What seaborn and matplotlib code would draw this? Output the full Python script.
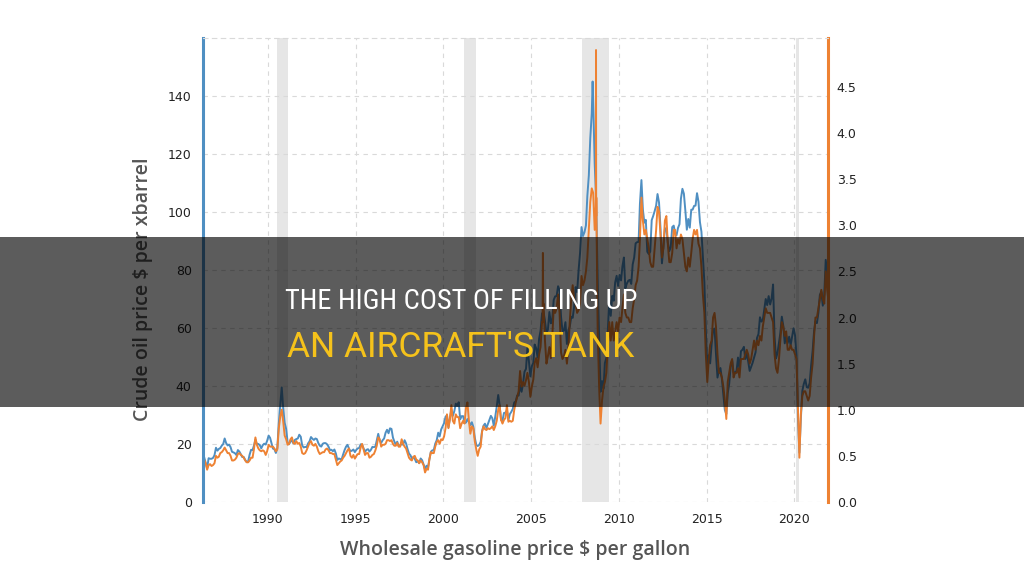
import numpy as np
import pandas as pd
import matplotlib
matplotlib.use('Agg')
import matplotlib.pyplot as plt
import matplotlib.dates as mdates
from matplotlib.patches import Rectangle
from matplotlib import font_manager
import seaborn as sns

# ---- data (monthly) ----
crude_80s = [12.8, 15.4, 13.4, 11.6, 15.1, 14.9, 14.9, 15.2, 16.1,
             18.7, 17.7, 18.3, 18.6, 19.4, 20.0, 21.9, 20.3, 19.5, 19.8, 18.9, 17.3,
             17.1, 16.8, 16.2, 17.9, 17.4, 16.5, 15.5, 15.5, 14.5, 13.8, 14.0, 16.3,
             18.0, 17.9, 19.4, 21.5, 20.0, 20.0, 19.6, 18.5, 19.6, 20.1, 19.8, 21.1]
crude_90s = [22.9, 22.1, 20.4, 18.4, 18.2, 16.9, 18.6, 27.2, 33.7, 39.5, 32.3, 27.3,
             25.2, 20.5, 19.9, 20.8, 21.2, 20.2, 21.4, 21.7, 21.9, 23.2, 22.5, 19.5,
             18.8, 19.0, 18.9, 20.2, 20.9, 22.4, 21.8, 21.4, 21.9, 21.7, 20.3, 19.4,
             19.1, 20.1, 20.3, 20.3, 19.9, 19.1, 17.9, 18.0, 17.5, 18.1, 16.7, 14.5,
             15.0, 14.8, 14.7, 16.4, 17.9, 19.1, 19.7, 18.4, 17.5, 17.7, 18.1, 17.2,
             18.0, 18.5, 18.6, 19.9, 19.7, 18.5, 17.3, 18.0, 18.2, 17.4, 18.0, 19.0,
             18.9, 19.1, 21.3, 23.5, 21.2, 20.4, 21.3, 21.9, 23.9, 24.9, 23.7, 25.4,
             25.2, 22.2, 20.9, 19.7, 20.8, 19.2, 19.6, 19.9, 19.8, 21.3, 20.2, 18.3,
             16.7, 16.1, 15.0, 15.4, 14.9, 13.7, 14.1, 13.4, 15.0, 14.4, 12.9, 11.3,
             12.5, 12.0, 14.7, 17.3, 17.8, 17.9, 20.1, 21.3, 23.9, 22.6, 25.0, 26.1]
crude_00s = [27.2, 29.4, 29.9, 25.7, 28.8, 31.8, 29.7, 31.3, 33.9, 33.1, 34.4, 28.5,
             29.6, 29.6, 27.2, 27.4, 28.6, 27.6, 26.5, 27.5, 25.9, 22.2, 19.7, 19.3,
             19.7, 20.7, 24.4, 26.3, 27.0, 25.5, 26.9, 28.4, 29.7, 28.9, 26.3, 29.4,
             32.9, 36.9, 33.6, 28.3, 28.1, 30.7, 30.8, 31.6, 28.3, 30.3, 31.1, 32.1,
             34.3, 34.7, 36.7, 36.7, 40.3, 38.0, 40.7, 44.9, 45.9, 53.1, 48.5, 43.3,
             46.8, 48.0, 54.3, 53.0, 49.8, 56.3, 59.0, 65.0, 65.6, 62.4, 58.3, 59.4,
             65.5, 61.6, 62.9, 69.7, 70.9, 71.0, 74.4, 73.0, 63.8, 58.9, 59.1, 62.0,
             54.5, 59.3, 60.4, 63.9, 63.5, 67.5, 74.1, 72.4, 79.9, 85.8, 94.8, 91.7,
             93.0, 95.4, 105.5, 112.6, 125.4, 134.0, 138.0, 116.7, 104.1, 76.6, 57.3, 38.0,
             41.7, 39.1, 47.9, 49.7, 59.0, 69.6, 64.2, 71.1, 69.4, 75.7, 78.0, 74.5]
crude_10s = [78.3, 76.4, 81.2, 84.3, 73.7, 75.3, 76.3, 76.6, 75.2, 81.9, 84.3, 89.2,
             89.6, 89.7, 102.9, 111.0, 100.9, 96.3, 97.3, 86.3, 85.5, 86.3, 97.2, 98.6,
             100.3, 102.2, 106.2, 103.3, 94.7, 82.3, 87.9, 94.1, 94.5, 89.5, 86.5, 87.9,
             94.8, 95.3, 92.9, 92.0, 94.5, 95.8, 104.6, 108.0, 106.3, 100.5, 93.9, 97.6,
             94.6, 100.8, 100.8, 102.1, 102.2, 106.5, 103.6, 96.5, 93.2, 84.4, 75.8, 59.3,
             47.2, 50.6, 47.8, 54.5, 59.3, 59.8, 50.9, 42.9, 45.5, 46.2, 42.4, 37.2,
             31.7, 30.3, 37.5, 40.8, 46.7, 48.8, 44.7, 44.7, 45.2, 49.8, 45.7, 52.0,
             52.5, 53.5, 49.3, 51.1, 48.5, 45.2, 46.6, 48.0, 49.8, 51.6, 56.6, 57.9,
             63.7, 62.2, 62.7, 66.3, 70.0, 67.9, 71.0, 68.1, 70.2, 75.0, 57.0, 49.5,
             51.4, 55.0, 58.2, 63.9, 60.8, 54.7, 57.4, 54.8, 57.0, 54.0, 57.0, 59.9]
crude_20s = [57.5, 50.5, 29.2, 17.0, 28.6, 38.3, 40.7, 42.3, 39.6, 39.4, 41.0, 47.0,
             52.0, 59.0, 62.3, 61.7, 65.2, 71.4, 72.5, 67.7, 71.6, 83.5, 79.2, 71.7]

gas_80s = [0.38, 0.46, 0.42, 0.35, 0.40, 0.41, 0.39, 0.40, 0.42,
           0.50, 0.48, 0.49, 0.53, 0.54, 0.56, 0.59, 0.56, 0.53, 0.53, 0.50, 0.45,
           0.45, 0.46, 0.48, 0.52, 0.53, 0.51, 0.50, 0.48, 0.45, 0.43, 0.43, 0.45,
           0.48, 0.48, 0.57, 0.70, 0.62, 0.58, 0.56, 0.55, 0.56, 0.55, 0.51, 0.55]
gas_90s = [0.62, 0.60, 0.60, 0.60, 0.58, 0.55, 0.57, 0.80, 0.93, 1.00, 0.87, 0.72,
           0.68, 0.62, 0.63, 0.68, 0.70, 0.64, 0.63, 0.66, 0.63, 0.64, 0.60, 0.53,
           0.52, 0.53, 0.56, 0.60, 0.64, 0.66, 0.62, 0.61, 0.63, 0.60, 0.55, 0.52,
           0.53, 0.54, 0.54, 0.57, 0.58, 0.56, 0.53, 0.53, 0.52, 0.52, 0.46, 0.40,
           0.42, 0.44, 0.45, 0.48, 0.50, 0.53, 0.56, 0.58, 0.50, 0.48, 0.51, 0.47,
           0.50, 0.52, 0.52, 0.59, 0.63, 0.57, 0.51, 0.53, 0.53, 0.48, 0.49, 0.51,
           0.52, 0.56, 0.61, 0.70, 0.68, 0.60, 0.62, 0.62, 0.63, 0.67, 0.67, 0.66,
           0.67, 0.63, 0.61, 0.61, 0.64, 0.60, 0.60, 0.68, 0.63, 0.60, 0.58, 0.53,
           0.48, 0.46, 0.45, 0.49, 0.50, 0.46, 0.45, 0.42, 0.45, 0.43, 0.40, 0.32,
           0.36, 0.35, 0.46, 0.54, 0.53, 0.53, 0.60, 0.65, 0.67, 0.63, 0.68, 0.67]
gas_00s = [0.71, 0.80, 0.95, 0.80, 0.90, 1.05, 0.88, 0.85, 0.95, 0.92, 0.92, 0.80,
           0.85, 0.88, 0.85, 1.02, 1.08, 0.88, 0.74, 0.82, 0.80, 0.66, 0.57, 0.50,
           0.57, 0.60, 0.76, 0.82, 0.79, 0.78, 0.80, 0.79, 0.80, 0.82, 0.78, 0.82,
           0.88, 1.00, 1.05, 0.89, 0.85, 0.89, 0.91, 1.05, 0.87, 0.88, 0.87, 0.88,
           1.00, 1.08, 1.14, 1.20, 1.42, 1.25, 1.30, 1.26, 1.32, 1.40, 1.30, 1.14,
           1.25, 1.33, 1.51, 1.56, 1.46, 1.60, 1.68, 1.95, 2.15, 1.75, 1.50, 1.58,
           1.68, 1.56, 1.78, 2.10, 2.05, 2.10, 2.25, 2.05, 1.62, 1.55, 1.58, 1.65,
           1.50, 1.68, 1.95, 2.20, 2.35, 2.20, 2.15, 2.05, 2.08, 2.15, 2.45, 2.35,
           2.40, 2.50, 2.65, 2.95, 3.25, 3.40, 3.35, 2.95, 3.10, 1.90, 1.25, 0.85,
           1.10, 1.25, 1.30, 1.40, 1.70, 1.95, 1.75, 1.95, 1.75, 1.85, 1.95, 1.85]
gas_10s = [2.00, 1.95, 2.10, 2.25, 2.05, 2.00, 2.00, 1.95, 1.95, 2.10, 2.20, 2.35,
           2.40, 2.55, 2.85, 3.30, 3.05, 2.90, 2.95, 2.85, 2.75, 2.60, 2.55, 2.55,
           2.75, 2.95, 3.20, 3.15, 2.90, 2.65, 2.75, 3.05, 3.10, 2.80, 2.60, 2.60,
           2.70, 2.95, 2.95, 2.75, 2.85, 2.80, 2.90, 2.85, 2.70, 2.55, 2.50, 2.65,
           2.55, 2.70, 2.85, 2.95, 2.90, 2.95, 2.80, 2.75, 2.55, 2.25, 2.05, 1.60,
           1.30, 1.55, 1.70, 1.75, 2.00, 2.05, 1.90, 1.60, 1.40, 1.40, 1.35, 1.25,
           1.10, 0.90, 1.30, 1.40, 1.50, 1.55, 1.35, 1.40, 1.40, 1.45, 1.35, 1.55,
           1.55, 1.55, 1.60, 1.65, 1.60, 1.50, 1.55, 1.65, 1.75, 1.65, 1.75, 1.70,
           1.80, 1.75, 1.90, 2.00, 2.10, 2.05, 2.05, 2.05, 2.00, 1.95, 1.60, 1.45,
           1.40, 1.55, 1.75, 1.95, 1.90, 1.80, 1.85, 1.65, 1.65, 1.70, 1.65, 1.65]
gas_20s = [1.60, 1.55, 1.05, 0.48, 0.95, 1.15, 1.20, 1.20, 1.15, 1.10, 1.15, 1.35,
           1.50, 1.80, 2.00, 2.00, 2.10, 2.20, 2.30, 2.20, 2.15, 2.50, 2.30, 2.15]

# short-lived spikes (weekly peaks)
crude_spike_dates = ['2008-07-03']
crude_spike_vals = [145.0]
gas_spike_dates = ['2005-08-26', '2005-09-02', '2005-09-09', '2008-09-08', '2008-09-12', '2008-09-17']
gas_spike_vals = [1.95, 2.70, 2.10, 3.20, 4.90, 3.30]

recessions = [('1990-07-01', '1991-03-01'), ('2001-03-01', '2001-11-01'),
              ('2007-12-01', '2009-06-01'), ('2020-02-01', '2020-04-15')]

months = pd.date_range('1986-04-01', '2021-12-01', freq='MS') + pd.Timedelta(days=14)
crude = pd.DataFrame({'date': months,
                      'price': crude_80s + crude_90s + crude_00s + crude_10s + crude_20s})
crude = pd.concat([crude, pd.DataFrame({'date': pd.to_datetime(crude_spike_dates),
                                        'price': crude_spike_vals})]).sort_values('date')
gas = pd.DataFrame({'date': months,
                    'price': gas_80s + gas_90s + gas_00s + gas_10s + gas_20s})
gas = pd.concat([gas, pd.DataFrame({'date': pd.to_datetime(gas_spike_dates),
                                    'price': gas_spike_vals})]).sort_values('date')

BLUE = '#4f8fc2'
ORANGE = '#ee8233'

sns.set_style('white')
plt.rcParams['font.family'] = ['DejaVu Sans']

installed = {f.name for f in font_manager.fontManager.ttflist}
banner_font = 'Roboto Condensed' if 'Roboto Condensed' in installed else 'Roboto'

fig = plt.figure(figsize=(10.24, 5.76), dpi=100)
ax = fig.add_axes([0.198, 0.1285, 0.611, 0.8055])
ax2 = ax.twinx()

for a, b in recessions:
    ax.axvspan(pd.Timestamp(a), pd.Timestamp(b), color='#e6e6e6', lw=0, zorder=0)

sns.lineplot(data=crude, x='date', y='price', ax=ax, color=BLUE, lw=1.4, sort=False)
sns.lineplot(data=gas, x='date', y='price', ax=ax2, color=ORANGE, lw=1.4, sort=False)

ax.set_xlim(pd.Timestamp('1986-04-15'), pd.Timestamp('2021-12-10'))
ax.set_ylim(0, 160)
ax2.set_ylim(0, 5.03)
ax.set_yticks(range(0, 141, 20))
ax2.set_yticks(np.arange(0, 4.6, 0.5))
ax2.set_yticklabels([f'{v:.1f}' for v in np.arange(0, 4.6, 0.5)])
ax.xaxis.set_major_locator(mdates.YearLocator(5))
ax.xaxis.set_major_formatter(mdates.DateFormatter('%Y'))

ax.grid(True, color='#d9d9d9', ls=(0, (4, 4)), lw=0.8)
ax.set_axisbelow(True)
ax2.grid(False)

for a in (ax, ax2):
    for s in a.spines.values():
        s.set_visible(False)
    a.tick_params(length=0, labelsize=9, colors='#222222')
ax.tick_params(axis='x', pad=8)
ax.tick_params(axis='y', pad=8)
ax2.tick_params(axis='y', pad=6)
ax2.spines['left'].set_visible(True)
ax2.spines['left'].set_color(BLUE)
ax2.spines['left'].set_linewidth(2.2)
ax2.spines['right'].set_visible(True)
ax2.spines['right'].set_color(ORANGE)
ax2.spines['right'].set_linewidth(2.2)
ax2.spines['top'].set_visible(True)
ax2.spines['top'].set_color('#d9d9d9')
ax2.spines['top'].set_linestyle((0, (4, 4)))
ax2.spines['top'].set_linewidth(0.8)

ax.set_xlabel('')
ax.set_ylabel('')
ax2.set_ylabel('')

fig.text(0.14, 0.497, 'Crude oil price $ per xbarrel', rotation=90, ha='center', va='center',
         fontsize=14, color='#555555', family=['Open Sans', 'DejaVu Sans'], weight='semibold')
fig.text(0.503, 0.045, 'Wholesale gasoline price $ per gallon', ha='center', va='center',
         fontsize=14, color='#555555', family=['Open Sans', 'DejaVu Sans'], weight='semibold')

# dark banner with title
fig.add_artist(Rectangle((0, 0.2934), 1, 0.2951, transform=fig.transFigure,
                         facecolor='black', alpha=0.64, lw=0, zorder=5))
fig.text(0.45, 0.477, 'THE HIGH COST OF FILLING UP', ha='center', va='center',
         fontsize=20.5, color='white', family=[banner_font, 'DejaVu Sans'], zorder=6)
fig.text(0.45, 0.396, "AN AIRCRAFT'S TANK", ha='center', va='center',
         fontsize=25.5, color='#f5c21b', family=['Roboto', 'DejaVu Sans'], zorder=6)

fig.savefig('out.png', dpi=100)
